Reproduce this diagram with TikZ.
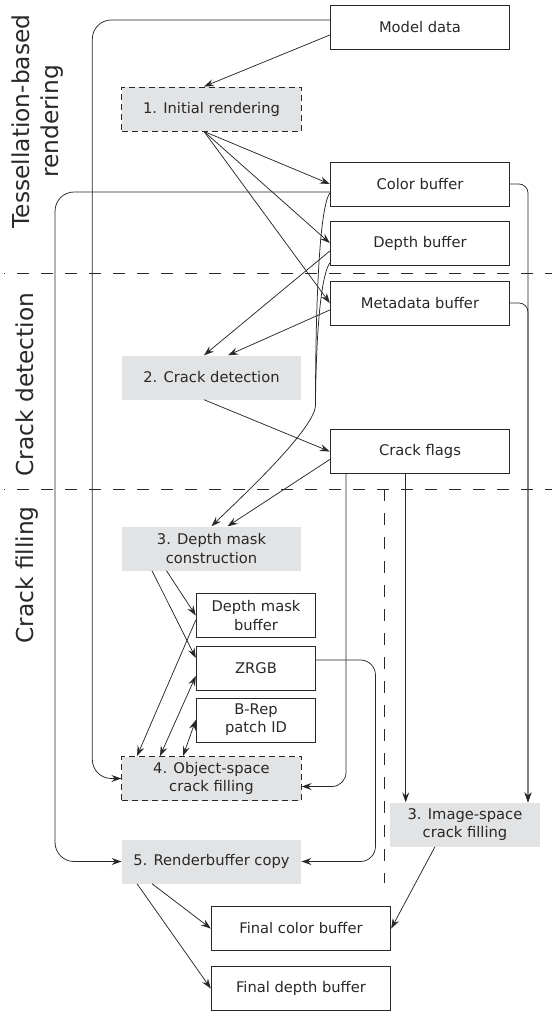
\documentclass[tikz,border=0pt]{standalone}
\usepackage{fontspec}
\setmainfont{DejaVu Sans}
\usepackage{tikz}
\usetikzlibrary{arrows.meta, positioning}

\definecolor{stagefill}{RGB}{226,227,229}
\definecolor{inkgray}{RGB}{40,40,40}

\begin{document}
\begin{tikzpicture}[x=1pt,y=1pt,on grid,>={Stealth[length=10pt,width=7pt,inset=3.5pt]},
        every node/.style={font=\fontsize{14.7}{18.3}\selectfont, text=inkgray, align=center},
        buffer/.style={draw=inkgray, line width=0.9pt, minimum width=179.5pt, minimum height=44pt, inner sep=0pt},
        stage/.style={fill=stagefill, minimum width=179.5pt, minimum height=44pt, inner sep=0pt},
        dashedstage/.style={stage, draw=inkgray, line width=0.9pt, dash pattern=on 6pt off 4pt},
        flow/.style={->, draw=inkgray, line width=0.75pt},
        sepline/.style={draw=inkgray, line width=1pt, dash pattern=on 12pt off 12pt},
        phase/.style={rotate=90, font=\fontsize{23.3}{29}\selectfont}]
        \useasboundingbox (0,0) rectangle (552,-1012);

        % phases
        \node[phase] (tesslabel) at (37.5,-121.5) {Tessellation-based\\rendering};
        \node[phase, anchor=base] (detectlabel) at (33,-384.5) {Crack detection};
        \node[phase, anchor=base] (filllabel) at (33,-575) {Crack filling};
        \draw[sepline, dash phase=10.5pt] (3.5,-273) -- (552,-273);
        \draw[sepline, dash phase=10.5pt] (3.5,-489) -- (552,-489);
        \draw[sepline] (384,-489) -- (384,-883);

        % stages and buffers
        \node[buffer] (model) at (420,-27) {Model data};
        \node[dashedstage] (init) at (211.5,-109) {1. Initial rendering};
        \node[buffer] (color) at (420,-184) {Color buffer};
        \node[buffer] (depth) [below=59pt of color] {Depth buffer};
        \node[buffer] (meta) [below=60pt of depth] {Metadata buffer};
        \node[stage] (detect) at (211.5,-377.5) {2. Crack detection};
        \node[buffer] (flags) at (420,-451.5) {Crack flags};
        \node[stage] (mask) at (211.5,-548.5) {3. Depth mask\\construction};
        \node[buffer, minimum width=119.5pt] (maskbuf) at (256,-615.5) {Depth mask\\buffer};
        \node[buffer, minimum width=119.5pt] (zrgb) [below=52.5pt of maskbuf] {ZRGB};
        \node[buffer, minimum width=119.5pt] (brep) [below=52pt of zrgb] {B-Rep\\patch ID};
        \node[dashedstage] (objfill) at (211.5,-778.5) {4. Object-space\\crack filling};
        \node[stage, minimum width=150pt] (imgfill) at (465,-824.5) {3. Image-space\\crack filling};
        \node[stage] (copy) at (211.5,-861.5) {5. Renderbuffer copy};
        \node[buffer] (fincolor) at (301,-928.5) {Final color buffer};
        \node[buffer] (findepth) [below=60pt of fincolor] {Final depth buffer};

        % tessellation-based rendering
        \draw[flow, rounded corners=19pt] ([yshift=7pt]model.west) -| ([xshift=-29pt]objfill.west) -- (objfill.west);
        \draw[flow] ([yshift=-8pt]model.west) -- ([xshift=-7.5pt]init.north);
        \foreach \buf in {color, depth, meta}
            \draw[flow] ([xshift=-7.5pt]init.south) -- (\buf.west);
        \draw[flow, rounded corners=19pt] ([yshift=-8pt]color.west) -| ([xshift=-66.5pt]copy.west) -- (copy.west);
        \draw[flow, rounded corners=9pt] (color.east) -| ([xshift=63pt]imgfill.north);
        \draw[flow, rounded corners=9pt] (meta.east) -| ([xshift=63pt]imgfill.north);

        % crack detection
        \draw[flow] ([yshift=-8pt]depth.west) -- ([xshift=-7.5pt]detect.north);
        \draw[flow] ([yshift=-7pt]meta.west) -- ([xshift=16.5pt]detect.north);
        \coordinate (bend) at (315.5,-405);
        \draw[flow] ([yshift=-9pt]color.west) to[out=235,in=90,looseness=0.3] (bend)
            to[out=-90,in=45,looseness=0.4] (mask.north);
        \draw[draw=inkgray, line width=0.75pt] ([yshift=-20pt]depth.west) to[out=235,in=90,looseness=0.4] (bend);
        \draw[flow] ([xshift=-7.5pt]detect.south) -- (flags.west);
        \draw[flow] ([yshift=-8pt]flags.west) -- ([xshift=16pt]mask.north);

        % crack filling
        \draw[flow, rounded corners=14pt] ([xshift=-74pt]flags.south) |- ([yshift=-8pt]objfill.east);
        \coordinate (flagdrop) at ([xshift=-14.3pt]flags.south);
        \draw[flow] (flagdrop) -- (flagdrop |- imgfill.north);
        \draw[flow, rounded corners=15pt] ([yshift=8pt]zrgb.east) -| ([xshift=74pt]copy.east) -- (copy.east);
        \draw[flow] ([xshift=-59.5pt]mask.south) -- ([yshift=10pt]zrgb.west);
        \draw[flow] ([xshift=-45pt]mask.south) -- (maskbuf.west);
        \draw[flow] ([yshift=-4.5pt]maskbuf.west) -- ([xshift=-74.5pt]objfill.north);
        \draw[flow, <->] ([yshift=-8pt]zrgb.west) -- ([xshift=-51.5pt]objfill.north);
        \draw[flow, <->] (brep.west) -- ([xshift=-28.5pt]objfill.north);
        \draw[flow] ([xshift=-30pt]imgfill.south) -- (fincolor.east);
        \draw[flow] ([xshift=-74.5pt]copy.south) -- (findepth.west);
        \draw[flow] ([xshift=-59.5pt]copy.south) -- (fincolor.west);
    \end{tikzpicture}
\end{document}
